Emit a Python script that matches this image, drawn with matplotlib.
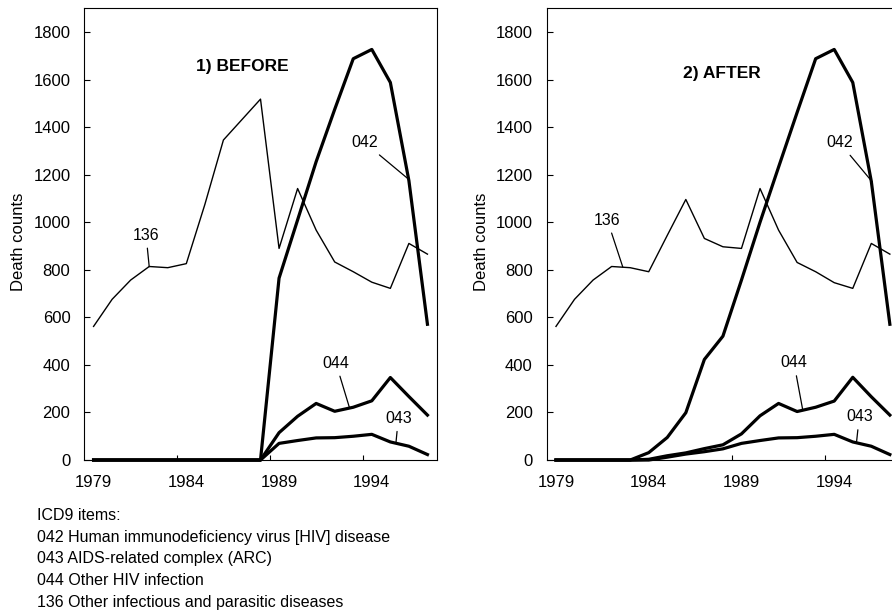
import matplotlib
matplotlib.use('Agg')
import matplotlib.pyplot as plt
from matplotlib import rcParams

# Arial-like text
rcParams['font.family'] = ['Liberation Sans', 'DejaVu Sans']

years = list(range(1979, 1998))
label_years = [1979, 1984, 1989, 1994]

# 1) BEFORE
before_042 = [0, 0, 0, 0, 0, 0, 0, 0, 0, 0, 765, 1010, 1255, 1475, 1688, 1727, 1588, 1175, 571]
before_043 = [0, 0, 0, 0, 0, 0, 0, 0, 0, 0, 70, 82, 93, 94, 100, 108, 76, 58, 23]
before_044 = [0, 0, 0, 0, 0, 0, 0, 0, 0, 0, 115, 184, 238, 205, 222, 249, 347, 267, 189]
before_136 = [562, 676, 757, 814, 809, 826, 1075, 1346, 1432, 1518, 890, 1142, 967, 833, 792, 748, 722, 911, 866]

# 2) AFTER
after_042 = [0, 0, 0, 0, 0, 31, 95, 199, 423, 521, 757, 1000, 1232, 1462, 1688, 1727, 1588, 1172, 571]
after_043 = [0, 0, 0, 0, 0, 0, 12, 25, 35, 47, 70, 82, 93, 94, 100, 108, 76, 58, 23]
after_044 = [0, 0, 0, 0, 0, 3, 18, 30, 48, 64, 110, 186, 238, 204, 222, 248, 348, 266, 189]
after_136 = [562, 676, 757, 814, 809, 792, 945, 1096, 932, 897, 890, 1142, 967, 831, 792, 746, 722, 911, 866]

legend_lines = ['ICD9 items:',
                '042 Human immunodeficiency virus [HIV] disease',
                '043 AIDS-related complex (ARC)',
                '044 Other HIV infection',
                '136 Other infectious and parasitic diseases']

# (text, label position, point on the line)
before_labels = [('136', (1981.83, 946), (1982.0, 813)),
                 ('042', (1993.63, 1334), (1996.0, 1180)),
                 ('044', (1992.07, 407), (1992.8, 219)),
                 ('043', (1995.43, 175), (1995.3, 71))]
after_labels = [('136', (1981.77, 1009), (1982.6, 812)),
                ('042', (1994.3, 1334), (1996.05, 1170)),
                ('044', (1991.83, 409), (1992.3, 212)),
                ('043', (1995.35, 182), (1995.2, 73))]


def draw_panel(ax, s042, s043, s044, s136, title, title_pos, labels):
  ax.plot(years, s136, color='black', lw=1.0, clip_on=False)
  for s in (s042, s044, s043):
    ax.plot(years, s, color='black', lw=2.3, clip_on=False)

  ax.set_xlim(1978.5, 1997.5)
  ax.set_ylim(0, 1900)
  ax.set_yticks(range(0, 1801, 200))
  ax.set_xticks([1983.5, 1988.5, 1993.5])
  ax.set_xticklabels([])
  ax.set_xticks(label_years, minor=True)
  ax.set_xticklabels([str(y) for y in label_years], minor=True)
  ax.tick_params(axis='x', which='major', direction='in', length=3.5, width=0.8)
  ax.tick_params(axis='x', which='minor', length=0, pad=11, labelsize=12)
  ax.tick_params(axis='y', direction='in', length=4.5, width=0.8, pad=10, labelsize=12)
  for sp in ax.spines.values():
    sp.set_linewidth(0.8)

  ax.set_ylabel('Death counts', fontsize=12)
  ax.yaxis.set_label_coords(-0.165, 0.483)

  ax.text(title_pos[0], title_pos[1], title, transform=ax.transAxes,
          ha='center', va='center', fontsize=12.5, fontweight='bold')

  for txt, xytext, xy in labels:
    ax.annotate(txt, xy=xy, xytext=xytext, ha='center', va='center', fontsize=11.5,
                arrowprops=dict(arrowstyle='-', lw=0.9, color='black', shrinkA=2, shrinkB=0))


fig = plt.figure(figsize=(8.92, 6.11), dpi=100)
ax1 = fig.add_axes([0.0945, 0.2471, 0.3951, 0.7393])
ax2 = fig.add_axes([0.6129, 0.2471, 0.3951, 0.7393])

draw_panel(ax1, before_042, before_043, before_044, before_136, '1) BEFORE', (0.4495, 0.8707), before_labels)
draw_panel(ax2, after_042, after_043, after_044, after_136, '2) AFTER', (0.4966, 0.856), after_labels)

row_y = [516, 537.5, 559, 580.5, 602]
for t, py in zip(legend_lines, row_y):
  fig.text(37 / 892, 1 - py / 611, t, ha='left', va='center', fontsize=11.5)

fig.savefig('out.png', dpi=100)
plt.close('all')
